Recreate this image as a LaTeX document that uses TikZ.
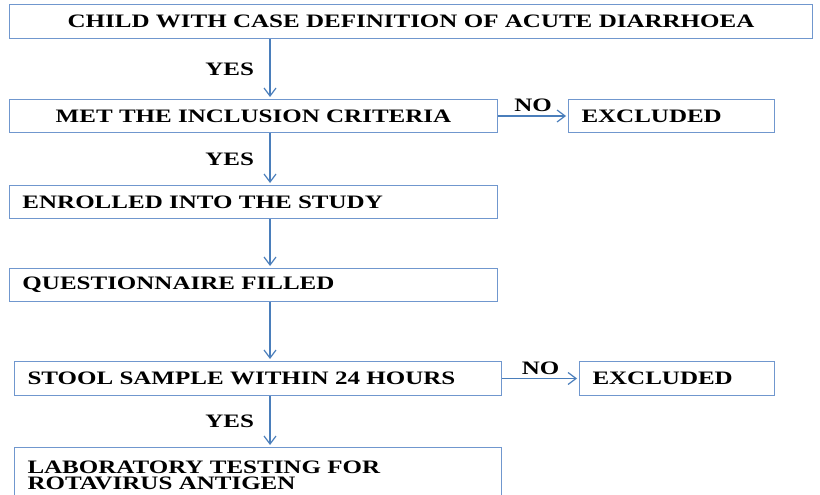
\documentclass[tikz,border=0pt]{standalone}
\usepackage{fontspec}
\setmainfont{Liberation Serif}[FakeStretch=1.316]
\usetikzlibrary{positioning, arrows.meta}
\definecolor{flowline}{HTML}{4A7EBB}
\definecolor{boxline}{HTML}{7097CE}
\tikzset{
  stepbox/.style={draw=boxline, line width=1pt, anchor=north west, align=left,
    inner xsep=13pt, inner ysep=0pt, minimum height=33pt,
    font=\fontsize{19pt}{16.5pt}\selectfont\bfseries},
  flow/.style={draw=flowline, line width=1.2pt,
    -{Straight Barb[length=8pt,width=12pt]}, shorten >=2pt},
  answer/.style={font=\fontsize{19pt}{22pt}\selectfont\bfseries},
}

\begin{document}
\begin{tikzpicture}
  \useasboundingbox (0,0) rectangle (820pt,-495pt);
  \coordinate (spine) at (270pt,0);

  \node [stepbox, align=center, text width=777pt, minimum height=34pt] (child) at (9pt,-4pt)
    {CHILD WITH CASE DEFINITION OF ACUTE DIARRHOEA};
  \node [stepbox, align=center, text width=462pt, below=60pt of child.south west, anchor=north west] (met)
    {MET THE INCLUSION CRITERIA};
  \node [stepbox, text width=180pt, right=70pt of met] (excl1) {EXCLUDED};
  \node [stepbox, text width=462pt, below=52pt of met.south west, anchor=north west] (enrol)
    {ENROLLED INTO THE STUDY};
  \node [stepbox, text width=462pt, below=49pt of enrol.south west, anchor=north west] (quest)
    {QUESTIONNAIRE FILLED};
  \node [stepbox, text width=461pt, minimum height=34pt, below=59pt of quest.south west,
    anchor=north west, xshift=5pt] (stool) {STOOL SAMPLE WITHIN 24 HOURS};
  \node [stepbox, text width=169pt, minimum height=34pt, right=77pt of stool] (excl2) {EXCLUDED};
  \node [stepbox, text width=461pt, inner ysep=13pt, minimum height=0pt,
    below=51pt of stool.south west, anchor=north west] (lab)
    {LABORATORY TESTING FOR\\ROTAVIRUS ANTIGEN};

  \draw [flow] (child.south -| spine) -- node [answer, left=12pt] {YES} (met.north -| spine);
  \draw [flow] (met.east) -- node [answer, above] {NO} (excl1.west);
  \draw [flow] (met.south -| spine) -- node [answer, left=12pt] {YES} (enrol.north -| spine);
  \draw [flow] (enrol.south -| spine) -- (quest.north -| spine);
  \draw [flow] (quest.south -| spine) -- (stool.north -| spine);
  \draw [flow] (stool.east) -- node [answer, above] {NO} (excl2.west);
  \draw [flow] (stool.south -| spine) -- node [answer, left=12pt] {YES} (lab.north -| spine);
\end{tikzpicture}
\end{document}
